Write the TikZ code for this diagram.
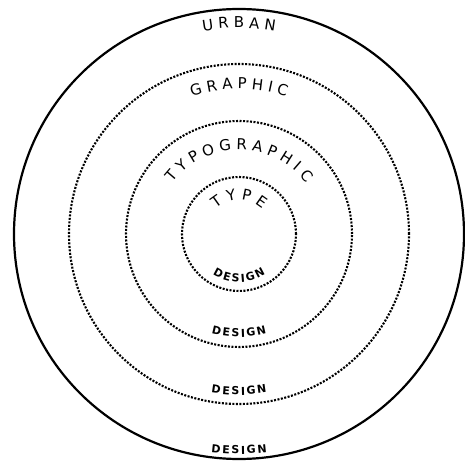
\documentclass[tikz,border=0pt]{standalone}
\usepackage{fontspec}
\usetikzlibrary{decorations.text,calc}
\newfontfamily\dvfam{DejaVu Sans}
\newcommand\bigf{\dvfam\fontsize{15}{15}\selectfont}
\newcommand\desf{\dvfam\bfseries\fontsize{11}{11}\selectfont}
\newcommand\gp{\kern1.8pt}
\newcommand\toptext[2]{\path[decorate,decoration={text along path,text align=center,text={#2}}] ($(c)+(180:#1)$) arc[start angle=180,end angle=0,radius=#1];}
\newcommand\bottext[2]{\path[decorate,decoration={text along path,text align=center,text={#2}}] ($(c)+(180:#1)$) arc[start angle=180,end angle=360,radius=#1];}
\begin{document}
\begin{tikzpicture}[x=1pt,y=1pt,
  ring/.style={line width=2.1pt, dash pattern=on 2pt off 1.5pt},
  outerring/.style={line width=2.2pt}]
\useasboundingbox (0,0) rectangle (465,463);
\coordinate (c) at (239,229);
\draw[outerring] (c) circle[radius=225];
\draw[ring] (c) circle[radius=170];
\draw[ring] (c) circle[radius=113];
\draw[ring] (c) circle[radius=57];
\toptext{206}{|\bigf|U R B A N}
\toptext{145}{|\bigf|G R A P H I C}
\toptext{84}{|\bigf|T Y P O G R A P H I C}
\toptext{34}{|\bigf|T Y P E}
\bottext{48}{|\desf|D{\gp}E{\gp}S{\gp}I{\gp}G{\gp}N}
\bottext{103}{|\desf|D{\gp}E{\gp}S{\gp}I{\gp}G{\gp}N}
\bottext{161}{|\desf|D{\gp}E{\gp}S{\gp}I{\gp}G{\gp}N}
\bottext{220}{|\desf|D{\gp}E{\gp}S{\gp}I{\gp}G{\gp}N}
\end{tikzpicture}
\end{document}
